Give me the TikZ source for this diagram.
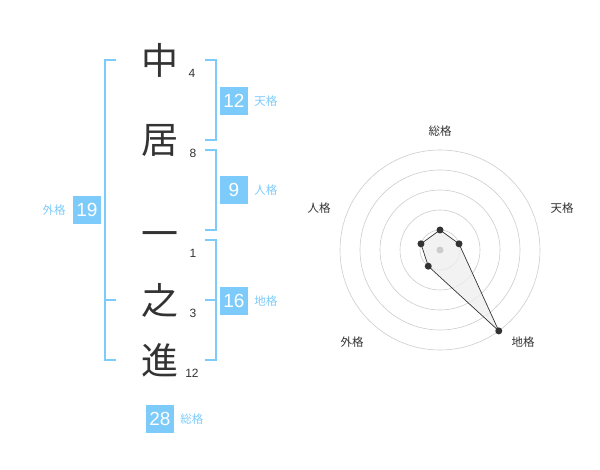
\documentclass[tikz,border=0pt]{standalone}
\usepackage{fontspec}
\setmainfont{Liberation Sans}
\newfontfamily\jpfont{Noto Sans CJK JP}
\usepackage{tikz}
\usetikzlibrary{positioning}
\definecolor{kakusky}{RGB}{125,203,250}
\definecolor{inkgray}{RGB}{51,51,51}
\definecolor{ringgray}{RGB}{204,204,204}
\definecolor{areagray}{RGB}{238,238,238}

\begin{document}
\begin{tikzpicture}[x=1pt, y=-1pt,
  every node/.style={inner sep=0pt},
  kanji/.style={font=\jpfont\fontsize{37}{37}\selectfont, text=inkgray},
  strokes/.style={font=\fontsize{12}{12}\selectfont, text=inkgray},
  numbox/.style={fill=kakusky, text=white, minimum width=28pt,
                 minimum height=28pt, font=\fontsize{19}{19}\selectfont},
  kakuname/.style={font=\jpfont\fontsize{11.5}{11.5}\selectfont, text=kakusky},
  bracket/.style={draw=kakusky, line width=2pt},
  ring/.style={draw=ringgray, line width=0.6pt},
  axisname/.style={font=\jpfont\fontsize{11.5}{11.5}\selectfont, text=inkgray},
  dot/.style={circle, fill=inkgray, minimum size=7pt},
]
  \useasboundingbox (0,0) rectangle (600,470);

  % Name characters and stroke counts
  \node[kanji] (c1) at (160,60) {中};
  \node[kanji] (c2) at (160,140) {居};
  \node[kanji] (c3) at (160,240) {一};
  \node[kanji] (c4) at (160,300) {之};
  \node[kanji] (c5) at (160,360) {進};
  \node[strokes] (n1) at (192,73) {4};
  \node[strokes] (n2) at (193,153) {8};
  \node[strokes] (n3) at (193,253) {1};
  \node[strokes] (n4) at (193,313) {3};
  \node[strokes] (n5) at (192,373) {12};

  % Brackets
  \draw[bracket] (205,60) -- (216,60) -- (216,140) -- (205,140);
  \draw[bracket] (205,150) -- (216,150) -- (216,230) -- (205,230);
  \draw[bracket] (205,240) -- (216,240) -- (216,360) -- (205,360);
  \draw[bracket] (205,300) -- (216,300);
  \draw[bracket] (116,60) -- (105,60) -- (105,360) -- (116,360);
  \draw[bracket] (105,300) -- (116,300);

  % Grade boxes
  \node[numbox] (ten) at (234,101) {12};
  \node[kakuname, right=6pt of ten] (tenl) {天格};
  \node[numbox] (jin) at (234,190) {9};
  \node[kakuname, right=6pt of jin] (jinl) {人格};
  \node[numbox] (chi) at (234,301) {16};
  \node[kakuname, right=6pt of chi] (chil) {地格};
  \node[numbox] (gai) at (87,210) {19};
  \node[kakuname, left=7pt of gai] (gail) {外格};
  \node[numbox] (sou) at (160,419) {28};
  \node[kakuname, right=6pt of sou] (soul) {総格};

  % Radar chart (y axis points down, so angles are mirrored)
  \coordinate (o) at (440,250);
  \foreach \r in {20,40,60,80,100}
    \draw[ring] (o) circle[radius=\r];
  \path (o) ++(0,-20) coordinate (psou);
  \path (o) ++(-18:20) coordinate (pten);
  \path (o) ++(54:100) coordinate (pchi);
  \path (o) ++(126:20) coordinate (pgai);
  \path (o) ++(-162:20) coordinate (pjin);
  \filldraw[fill=areagray, fill opacity=0.75, draw=inkgray, line width=0.7pt]
    (psou) -- (pten) -- (pchi) -- (pgai) -- (pjin) -- cycle;
  \fill[ringgray] (o) circle[radius=3.5];
  \foreach \p in {psou,pten,pchi,pgai,pjin}
    \node[dot] at (\p) {};

  \node[axisname] (asou) at (440,131) {総格};
  \node[axisname] (aten) at (562,208) {天格};
  \node[axisname] (ajin) at (319,208) {人格};
  \node[axisname] (agai) at (352,342) {外格};
  \node[axisname] (achi) at (523,342) {地格};
\end{tikzpicture}
\end{document}
